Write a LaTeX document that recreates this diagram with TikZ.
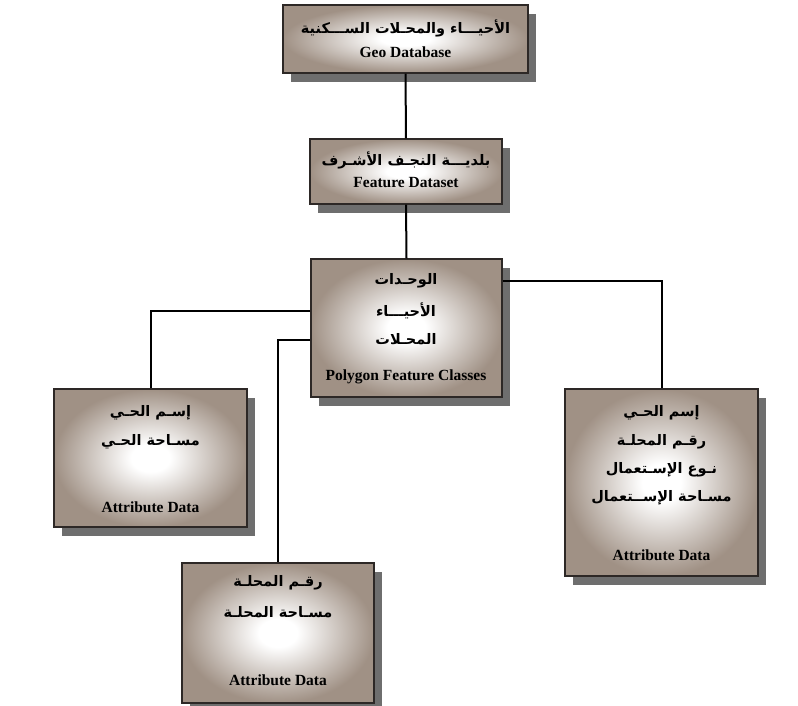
\documentclass[tikz,border=0pt]{standalone}
\usepackage{fontspec}
\usetikzlibrary{shadows}
\TeXXeTstate=1
\newfontfamily\arabicfont[Script=Arabic]{DejaVu Sans}
\newfontfamily\engfont{Liberation Serif}
\definecolor{boxbrown}{RGB}{160,145,133}
\definecolor{shadowgray}{RGB}{110,110,110}
\definecolor{edgegray}{RGB}{45,40,38}
\pgfdeclareradialshading{boxshade}{\pgfpoint{0bp}{0bp}}{color(0bp)=(white); color(5bp)=(white); color(25bp)=(boxbrown); color(50bp)=(boxbrown)}
\tikzset{
  box/.style={draw=edgegray, line width=1.3pt, shading=boxshade, inner sep=0pt,
    drop shadow={shadow xshift=8pt, shadow yshift=-9pt, fill=shadowgray, opacity=1}},
  ar/.style={font=\arabicfont\bfseries\fontsize{14.5}{16}\selectfont, inner sep=0pt},
  en/.style={font=\engfont\bfseries\fontsize{15.5}{17}\selectfont, inner sep=0pt},
  conn/.style={draw=black, line width=2pt}
}
\newcommand{\AR}[1]{\beginR #1\endR}
\begin{document}
\begin{tikzpicture}[x=1pt,y=-1pt]
\useasboundingbox (0,0) rectangle (798,706);
% boxes
\node[box, minimum width=245pt, minimum height=68pt] (b1) at (405.5,39) {};
\node[box, minimum width=192pt, minimum height=65pt] (b2) at (406,171.5) {};
\node[box, minimum width=191pt, minimum height=138pt] (b3) at (406.5,328) {};
\node[box, minimum width=193pt, minimum height=138pt] (b4) at (150.5,458) {};
\node[box, minimum width=193pt, minimum height=187pt] (b5) at (661.5,482.5) {};
\node[box, minimum width=192pt, minimum height=140pt] (b6) at (278,633) {};
% texts
\node[ar] (t1a) at (405.5,28) {\AR{الأحيـــاء والمحـلات الســـكنية}};
\node[en] (t1b) at (405.5,52) {Geo Database};
\node[ar] (t2a) at (406,160) {\AR{بلديـــة النجـف الأشـرف}};
\node[en] (t2b) at (406,183) {Feature Dataset};
\node[ar] (t3a) at (406,281) {\AR{الوحـدات}};
\node[ar] (t3b) at (406,311) {\AR{الأحيـــاء}};
\node[ar] (t3c) at (406,339) {\AR{المحـلات}};
\node[en] (t3d) at (406,377) {Polygon Feature Classes};
\node[ar] (t4a) at (150.5,413) {\AR{إسـم الحـي}};
\node[ar] (t4b) at (150.5,442) {\AR{مسـاحة الحـي}};
\node[en] (t4c) at (150.5,507) {Attribute Data};
\node[ar] (t5a) at (661.5,413) {\AR{إسم الحـي}};
\node[ar] (t5b) at (661.5,442) {\AR{رقـم المحلـة}};
\node[ar] (t5c) at (661.5,470) {\AR{نـوع الإسـتعمال}};
\node[ar] (t5d) at (661.5,498) {\AR{مسـاحة الإســتعمال}};
\node[en] (t5e) at (661.5,555) {Attribute Data};
\node[ar] (t6a) at (278,583) {\AR{رقـم المحلـة}};
\node[ar] (t6b) at (278,612) {\AR{مسـاحة المحلـة}};
\node[en] (t6c) at (278,680) {Attribute Data};
% connectors
\draw[conn] (b1.south) -- (b2.north);
\draw[conn] (b2.south) -- (b3.north);
\draw[conn] ([yshift=-53pt]b3.north west) -| (b4.north);
\draw[conn] ([yshift=-82pt]b3.north west) -| (b6.north);
\draw[conn] ([yshift=-23pt]b3.north east) -| (b5.north);
\end{tikzpicture}
\end{document}
